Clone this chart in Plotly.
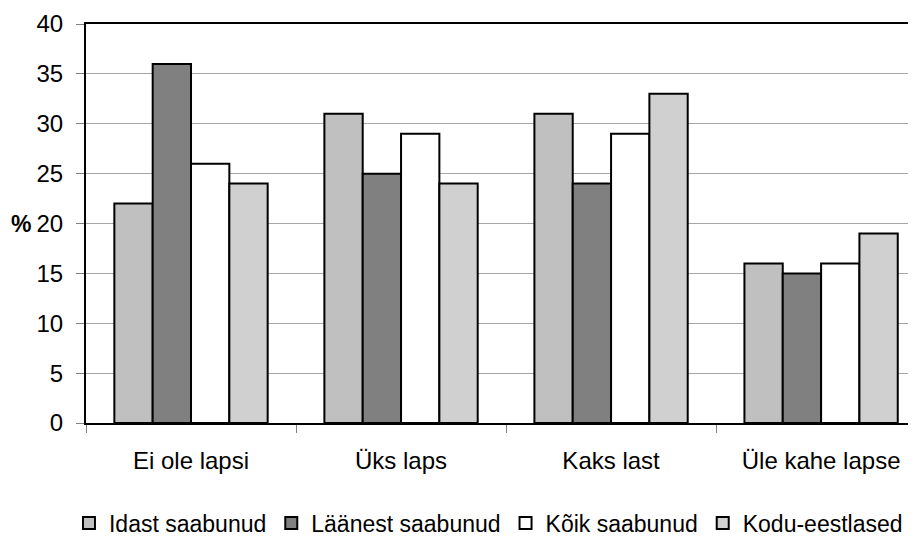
import plotly.graph_objects as go

categories = ["Ei ole lapsi", "Üks laps", "Kaks last", "Üle kahe lapse"]
idast = [22, 31, 31, 16]
laanest = [36, 25, 24, 15]
koik = [26, 29, 29, 16]
kodu = [24, 24, 33, 19]

series = [
    ("Idast saabunud", idast, "#C0C0C0"),
    ("Läänest saabunud", laanest, "#808080"),
    ("Kõik saabunud", koik, "#FFFFFF"),
    ("Kodu-eestlased", kodu, "#D0D0D0"),
]

fig = go.Figure()
for name, vals, color in series:
    fig.add_trace(go.Bar(
        x=categories, y=vals, name=name,
        marker=dict(color=color, line=dict(color="black", width=2)),
    ))

# page body adds 8px, so margins are shifted to compensate
fig.update_layout(
    width=916, height=539,
    margin=dict(l=78, r=0, t=16, b=124, autoexpand=False),
    plot_bgcolor="white", paper_bgcolor="white",
    font=dict(family="Liberation Sans, Arial, sans-serif", size=24, color="black"),
    barmode="group", bargap=0.27, bargroupgap=0,
    showlegend=True,
    legend=dict(
        orientation="h", xref="container", yref="container",
        x=0.9825, xanchor="right", y=0.0445, yanchor="middle",
        font=dict(size=23), itemwidth=30, tracegroupgap=0,
    ),
)
fig.update_xaxes(
    type="category", range=[-0.5, 3.49], automargin=False,
    showline=True, linecolor="black", linewidth=2, mirror=True,
    ticks="outside", tickson="boundaries", ticklen=8, tickcolor="#808080",
    ticklabelstandoff=15, showgrid=False,
)
fig.update_yaxes(
    range=[0, 40], dtick=5, automargin=False,
    showline=True, linecolor="black", linewidth=2,
    ticks="outside", ticklen=8, tickcolor="#808080",
    ticklabelstandoff=8,
    showgrid=True, gridcolor="#A6A6A6", gridwidth=1, zeroline=False,
)
fig.add_annotation(
    text="<b>%</b>", xref="paper", yref="y", x=-0.063, y=20,
    xanchor="right", yanchor="middle", showarrow=False, font=dict(size=23),
)

fig.write_html("out.html")
